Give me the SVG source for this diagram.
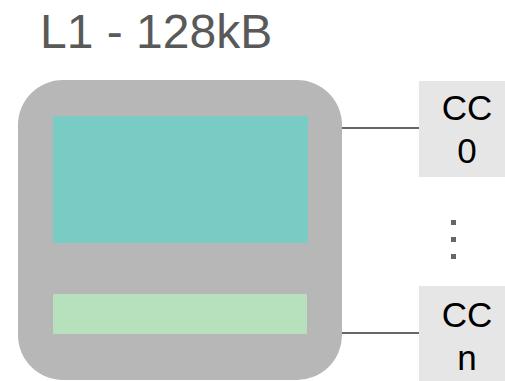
<svg xmlns="http://www.w3.org/2000/svg" width="505" height="381" viewBox="0 0 505 381">
  <style>
    .title { font-family: "Liberation Sans", Arial, sans-serif; font-size: 48px; fill: #595959; }
    .cc-box { fill: #e6e6e6; }
    .cc-label { font-family: "Liberation Sans", Arial, sans-serif; font-size: 35px; fill: #000000; text-anchor: middle; }
    .link { stroke: #666666; stroke-width: 2; fill: none; }
    .dot { fill: #666666; }
  </style>
  <rect width="505" height="381" fill="#ffffff"/>

  <text class="title" x="40" y="48">L1 - 128kB</text>

  <!-- L1 cache block -->
  <g id="l1">
    <rect x="18" y="80" width="324" height="300" rx="45" ry="45" fill="#b7b7b7"/>
    <rect x="53" y="116" width="255" height="127" fill="#79ccc4"/>
    <rect x="53" y="294" width="254" height="40" fill="#b7e1bd"/>
  </g>

  <!-- links from the cache to the cores -->
  <g id="connectors">
    <line class="link" x1="342" y1="128" x2="419" y2="128"/>
    <line class="link" x1="342" y1="333" x2="419" y2="333"/>
  </g>

  <g id="cc0">
    <rect class="cc-box" x="419" y="81" width="96" height="96"/>
    <text class="cc-label" x="467" y="119.5">CC</text>
    <text class="cc-label" x="467" y="163">0</text>
  </g>

  <g id="ellipsis">
    <rect class="dot" x="451" y="220" width="5" height="5"/>
    <rect class="dot" x="451" y="237" width="5" height="5"/>
    <rect class="dot" x="451" y="254" width="5" height="5"/>
  </g>

  <g id="ccn">
    <rect class="cc-box" x="419" y="286" width="96" height="96"/>
    <text class="cc-label" x="467" y="327">CC</text>
    <text class="cc-label" x="467" y="370">n</text>
  </g>
</svg>
